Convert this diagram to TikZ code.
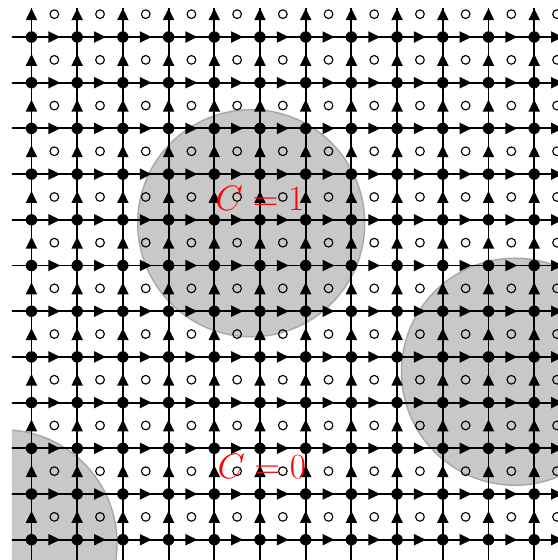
\RequirePackage{fix-cm}
\documentclass[tikz,border=0pt]{standalone}
\usepackage{tikz}
\usetikzlibrary{arrows.meta, decorations.markings}
\definecolor{diskgray}{RGB}{200,200,200}
\definecolor{diskedge}{RGB}{168,168,168}

\begin{document}
\begin{tikzpicture}[
  dot/.style={circle, fill=black, inner sep=0pt, minimum size=0.25cm},
  facering/.style={circle, draw=black, line width=0.7pt, inner sep=0pt, minimum size=0.19cm},
  bond/.style={line width=1.2pt},
  midarrow/.style={bond, postaction={decorate}, decoration={markings, mark=at position 0.5 with {\arrow[xshift=1.3mm]{Triangle[length=2.6mm, width=2.4mm]}}}},
  disk/.style={fill=diskgray, draw=diskedge, line width=0.9pt},
  chern/.style={text=red, font=\fontsize{22}{26}\selectfont, anchor=base},
]
\def\R{2.484} % disk radius
\useasboundingbox (0,0) rectangle (12.21,-12.254);
\clip (0.26,-0.18) rectangle (12.21,-12.254);

\begin{scope}[shift={(0.689,-0.81)}]
% Shaded disks
\draw[disk] (4.808,-4.074) circle (\R);
\draw[disk] (10.58,-7.324) circle (\R);
\draw[disk] (-0.612,-11.08) circle (\R);

% Lattice points
\foreach \i in {0,...,11}
  \foreach \j in {0,...,11}
    \coordinate (p-\i-\j) at (\i,-\j);
\foreach \k in {0,...,11} {
  \coordinate (w-\k) at (-1,-\k);
  \coordinate (e-\k) at (12,-\k);
  \coordinate (n-\k) at (\k,1);
  \coordinate (s-\k) at (\k,-12);
}

% Horizontal bonds
\foreach \j in {0,...,11} {
  \draw[bond] (w-\j) -- (p-0-\j);
  \foreach \i [evaluate=\i as \k using int(\i+1)] in {0,...,10}
    \draw[midarrow] (p-\i-\j) -- (p-\k-\j);
  \draw[midarrow] (p-11-\j) -- (e-\j);
}

% Vertical bonds
\foreach \i in {0,...,11} {
  \draw[bond] (s-\i) -- (p-\i-11);
  \foreach \j [evaluate=\j as \k using int(\j-1)] in {1,...,11}
    \draw[midarrow] (p-\i-\j) -- (p-\i-\k);
  \draw[midarrow] (p-\i-0) -- (n-\i);
}

% Plaquettes and sites
\foreach \i in {0,...,11}
  \foreach \j in {0,...,11} {
    \node[facering] (f-\i-\j) at (\i+0.5,-\j+0.5) {};
    \node[dot] (v-\i-\j) at (p-\i-\j) {};
  }

% Labels
\node[chern] (c-top) at (5.0,-3.796) {$C=1$};
\node[chern] (c-bot) at (5.04,-9.65) {$C=0$};
\end{scope}
\end{tikzpicture}
\end{document}
